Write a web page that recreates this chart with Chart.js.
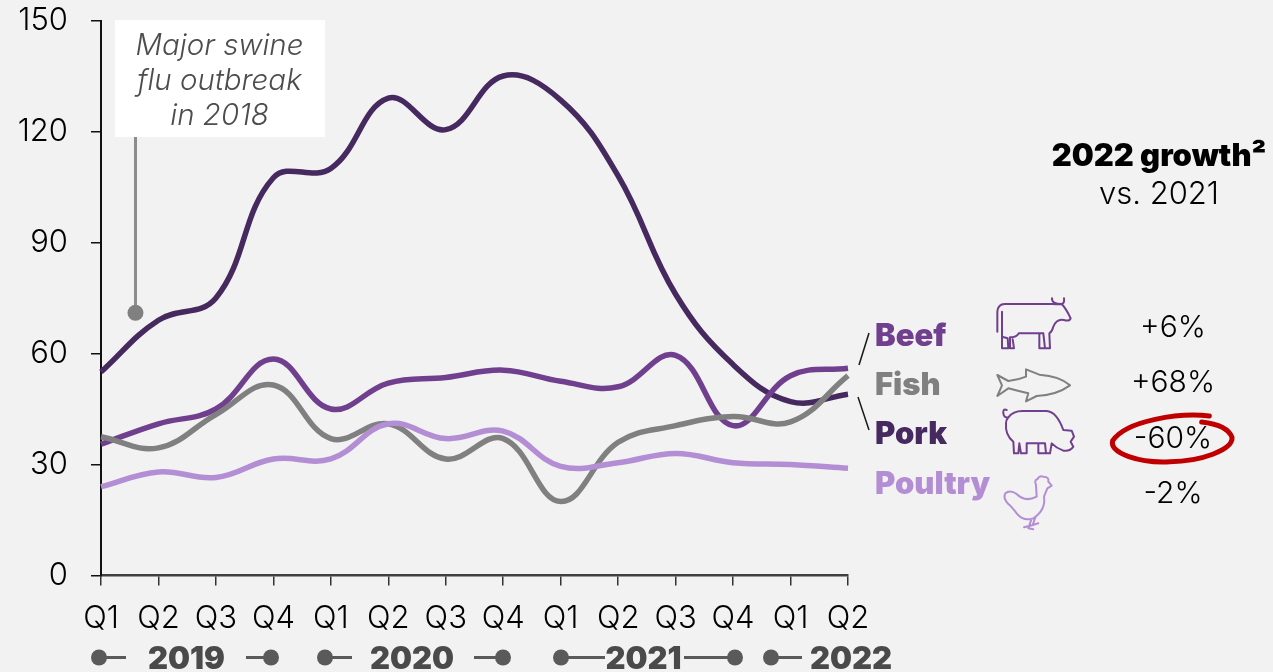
<!DOCTYPE html>
<html>
<head>
<meta charset="utf-8">
<title>Meat imports</title>
<script src="https://cdn.jsdelivr.net/npm/chart.js@4"></script>
<style>
  html, body { margin: 0; padding: 0; background: #f2f2f2; overflow: hidden; }
  canvas { display: block; }
</style>
</head>
<body>
<canvas id="chart" width="1273" height="672"></canvas>
<script>
const quarters = ['Q1','Q2','Q3','Q4','Q1','Q2','Q3','Q4','Q1','Q2','Q3','Q4','Q1','Q2'];
const years = ['2019', '2020', '2021', '2022'];

const beef    = [35.5, 41, 45, 58.5, 45, 52, 53.5, 55.5, 52.5, 51, 59.5, 40.5, 54, 56];
const fish    = [37.5, 34.5, 43.5, 51.5, 37, 41, 31.5, 37, 20, 36, 40.5, 43, 41.5, 54];
const pork    = [55, 69, 75, 107.5, 110, 129, 120.5, 135, 128.5, 108, 76, 57, 47, 49];
const poultry = [24, 28, 26.5, 31.5, 31.5, 41, 37, 39, 29.5, 30.5, 33, 30.5, 30, 29];

const meatNames = ['Beef', 'Fish', 'Pork', 'Poultry'];
const growth = ['+6%', '+68%', '-60%', '-2%'];

const BEEF = '#70408f', FISH = '#808080', PORK = '#46295f', POULTRY = '#b48ed4';
const FONT = 'Inter, "Noto Sans", sans-serif';

function text(ctx, str, x, y, font, color, align) {
  ctx.font = font;
  ctx.fillStyle = color;
  ctx.textAlign = align || 'center';
  ctx.textBaseline = 'alphabetic';
  ctx.fillText(str, x, y);
}

function dot(ctx, x, y, r, color) {
  ctx.fillStyle = color;
  ctx.beginPath();
  ctx.arc(x, y, r, 0, Math.PI * 2);
  ctx.fill();
}

function seg(ctx, x1, y1, x2, y2, color, w) {
  ctx.strokeStyle = color;
  ctx.lineWidth = w;
  ctx.beginPath();
  ctx.moveTo(x1, y1);
  ctx.lineTo(x2, y2);
  ctx.stroke();
}

// icons are traced in the coordinates of a 3x crop starting at 860,280
const icons = [
  { color: BEEF, d: 'M412 155 L412 95 Q414 72 434 72 L578 72 Q600 74 605 72 Q575 72 576 55 M605 72 Q614 70 612 55 M605 72 Q618 85 632 115 Q628 125 612 120 Q590 115 580 140 Q576 155 568 160 L570 205 L555 205 L550 160 L538 160 L538 205 L558 205 M550 160 L476 160 Q470 172 450 172 L450 205 L462 205 L458 178 M443 175 L426 170 L426 205 L445 205 L443 175 M426 170 L426 95' },
  { color: FISH, d: 'M412 285 L445 303 Q475 300 498 290 L498 268 L538 284 Q600 288 630 316 Q590 345 530 348 L498 364 L505 340 Q470 332 445 325 L412 348 L426 316 Z' },
  { color: BEEF, d: 'M440 390 Q428 385 430 400 Q432 415 445 412 M445 412 Q460 392 490 393 L560 393 Q590 395 610 450 L635 452 L642 470 L632 485 L640 500 Q630 515 610 512 Q590 505 575 490 L570 520 L558 520 L555 490 L535 490 L535 520 L558 520 M535 490 L500 490 L500 520 L483 520 L478 490 L475 520 L462 520 L460 485 Q435 465 438 430 Q438 420 445 412' },
  { color: POULTRY, d: 'M530 650 L528 615 Q522 600 532 598 Q538 586 550 590 Q568 590 565 605 L575 617 L562 625 L552 650 Q558 690 520 715 Q490 725 470 700 Q455 680 445 672 Q428 655 436 640 Q450 628 470 642 Q495 668 530 650 M515 716 L505 745 M526 712 L518 735 M492 742 L520 735 M505 745 L520 748 M518 735 L535 730' }
];

// hand drawn ring round the -60%
const ring = 'M1048 408 C960 398 800 420 758 482 C748 520 840 550 930 545 C1020 545 1120 510 1116 472 C1105 442 1060 430 1025 426';

const overlay = {
  id: 'overlay',
  beforeDatasetsDraw(chart) {
    const { ctx, scales } = chart;
    // callout, anchored on the value scale
    const cx = scales.x.getPixelForValue(0.6);
    const cy = scales.y.getPixelForValue(71);
    ctx.save();
    seg(ctx, cx, 130, cx, cy, '#8c8c8c', 3);
    dot(ctx, cx, cy, 8, '#808080');
    ctx.fillStyle = '#ffffff';
    ctx.fillRect(115, 20, 210, 117);
    const note = 'italic 300 29.5px ' + FONT;
    text(ctx, 'Major swine', 219.5, 55, note, '#4d4d4d');
    text(ctx, 'flu outbreak', 219.5, 90, note, '#4d4d4d');
    text(ctx, 'in 2018', 219.5, 125, note, '#4d4d4d');
    ctx.restore();
  },
  afterDraw(chart) {
    const { ctx } = chart;
    ctx.save();

    // year brackets under the quarters
    const grey = '#5a5a5a';
    const links = [
      [99, 126, 246, 271], [325, 352, 474, 503], [561, 605, 684, 735], [771, 802]
    ];
    links.forEach(l => {
      dot(ctx, l[0], 657.5, 8, grey);
      seg(ctx, l[0], 657.5, l[1], 657.5, grey, 3);
      if (l.length > 2) {
        seg(ctx, l[2], 657.5, l[3], 657.5, grey, 3);
        dot(ctx, l[3], 657.5, 8, grey);
      }
    });
    const yearX = [186.5, 412, 643.5, 851];
    years.forEach((y, i) => text(ctx, y, yearX[i], 669, '900 31px ' + FONT, '#4a4a4a'));

    // legend
    const labelFont = '900 31px ' + FONT;
    const colors = [BEEF, FISH, PORK, POULTRY];
    const labelY = [346, 395, 444, 494];
    meatNames.forEach((n, i) => text(ctx, n, 875, labelY[i], labelFont, colors[i], 'left'));
    seg(ctx, 859, 365, 869, 333, '#1a1a1a', 1.5);
    seg(ctx, 858, 397, 869, 430, '#1a1a1a', 1.5);

    // growth column
    text(ctx, '2022 growth²', 1159, 166, '900 31px ' + FONT, '#000000');
    text(ctx, 'vs. 2021', 1159, 204, '300 31px ' + FONT, '#000000');
    const growthY = [337, 392, 448, 503];
    growth.forEach((g, i) => text(ctx, g, 1173, growthY[i], '300 30px ' + FONT, '#000000'));

    // icons and ring
    ctx.translate(860, 280);
    ctx.scale(1 / 3, 1 / 3);
    ctx.lineJoin = 'round';
    ctx.lineCap = 'round';
    icons.forEach(ic => {
      ctx.strokeStyle = ic.color;
      ctx.lineWidth = 6;
      ctx.stroke(new Path2D(ic.d));
    });
    ctx.strokeStyle = '#c00000';
    ctx.lineWidth = 15;
    ctx.stroke(new Path2D(ring));
    ctx.restore();
  }
};

function series(label, data, color) {
  return { label, data, borderColor: color, backgroundColor: color, borderWidth: 5.5,
           pointRadius: 0, tension: 0.4, clip: false, borderCapStyle: 'butt' };
}

new Chart(document.getElementById('chart'), {
  type: 'line',
  data: {
    labels: quarters,
    datasets: [
      series('Poultry', poultry, POULTRY),
      series('Fish', fish, FISH),
      series('Beef', beef, BEEF),
      series('Pork', pork, PORK)
    ]
  },
  options: {
    responsive: false,
    animation: false,
    layout: { padding: { top: 20.5, right: 425, left: 0, bottom: 0 } },
    plugins: { legend: { display: false }, tooltip: { enabled: false } },
    scales: {
      x: {
        offset: false,
        afterFit(scale) { scale.height = 96.5; },
        grid: { drawOnChartArea: false, color: '#333333', tickLength: 10, lineWidth: 1.5 },
        border: { color: '#404040', width: 2.5 },
        ticks: { color: '#000000', padding: 15, maxRotation: 0, autoSkip: false,
                 font: { family: FONT, size: 31, weight: 300 } }
      },
      y: {
        min: 0,
        max: 150,
        afterFit(scale) { scale.width = 101; scale.paddingTop = 0; scale.paddingBottom = 0; },
        grid: { drawOnChartArea: false, color: '#111111', tickLength: 10, lineWidth: 1.5 },
        border: { color: '#111111', width: 2 },
        ticks: { stepSize: 30, color: '#000000', padding: 23,
                 font: { family: FONT, size: 31, weight: 300 } }
      }
    }
  },
  plugins: [overlay]
});
</script>
</body>
</html>
